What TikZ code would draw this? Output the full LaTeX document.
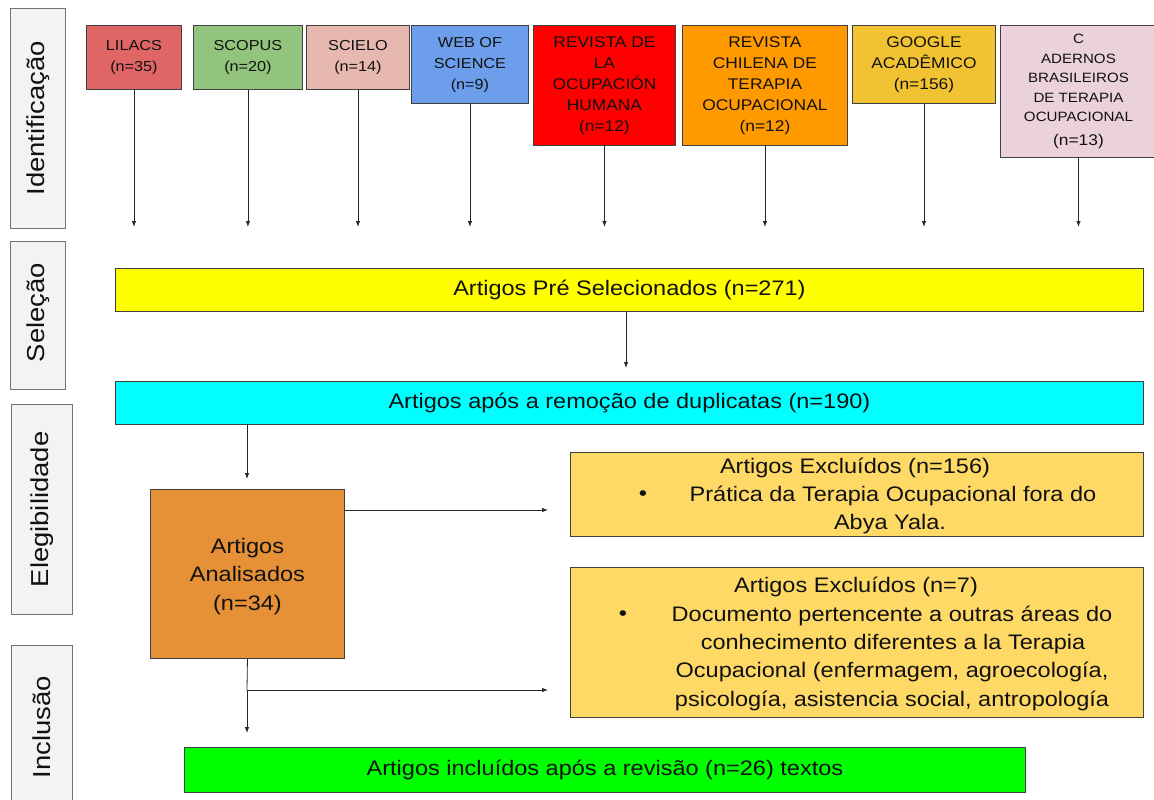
\documentclass[tikz,border=0pt]{standalone}
\usepackage{fontspec}
\setmainfont{Liberation Sans}[FakeStretch=1.12]
\usetikzlibrary{arrows.meta}
\definecolor{cLil}{HTML}{E06666}
\definecolor{cSco}{HTML}{93C47D}
\definecolor{cSci}{HTML}{E6B8AF}
\definecolor{cWeb}{HTML}{6D9EEB}
\definecolor{cRev}{HTML}{FF0000}
\definecolor{cChi}{HTML}{FF9900}
\definecolor{cGoo}{HTML}{F1C232}
\definecolor{cCad}{HTML}{EAD1DC}
\definecolor{cYel}{HTML}{FFFF00}
\definecolor{cCya}{HTML}{00FFFF}
\definecolor{cOra}{HTML}{E69138}
\definecolor{cExc}{HTML}{FFD966}
\definecolor{cGre}{HTML}{00FF00}
\definecolor{cSide}{HTML}{F3F3F3}
\definecolor{cTxt}{HTML}{111111}
\begin{document}
\begin{tikzpicture}[x=1pt,y=-1pt,
  box/.style={draw=black!75, line width=0.9pt, inner sep=0pt, align=center, text=cTxt, anchor=north west},
  src/.style={box, font=\fontsize{14.5}{21}\selectfont},
  srcb/.style={box, font=\fontsize{15.5}{21}\selectfont},
  bar/.style={box, font=\fontsize{21}{28}\selectfont},
  side/.style={draw=black!55, fill=cSide, line width=0.9pt, anchor=north west, inner sep=0pt},
  sidetext/.style={rotate=90, font=\fontsize{24.5}{28}\selectfont, text=cTxt, inner sep=0pt},
  ltxt/.style={font=\fontsize{21}{28}\selectfont, text=cTxt, inner sep=0pt, anchor=center},
  arr/.style={-{Latex[length=6pt,width=4.5pt]}, line width=0.8pt, draw=black!85},
  ln/.style={line width=0.8pt, draw=black!85}
]
\clip (0,0) rectangle (1154,800);
\fill[white] (0,0) rectangle (1154,800);

% side labels
\node[side, minimum width=55pt, minimum height=220pt] (s1) at (10,8) {};
\node[sidetext] (s1t) at (s1.center) {Identificação};
\node[side, minimum width=55pt, minimum height=148pt] (s2) at (10,241) {};
\node[sidetext] (s2t) at ([yshift=3pt]s2.center) {Seleção};
\node[side, minimum width=61pt, minimum height=210pt] (s3) at (11,404) {};
\node[sidetext] (s3t) at (s3.center) {Elegibilidade};
\node[side, minimum width=61pt, minimum height=170pt] (s4) at (11,645) {};
\node[sidetext] (s4t) at ([yshift=-82pt]s4.north) {Inclusão};

% sources
\node[src, fill=cLil, minimum width=95pt, minimum height=64pt] (lil) at (86,25) {LILACS\\(n=35)};
\node[src, fill=cSco, minimum width=109pt, minimum height=64pt] (sco) at (193,25) {SCOPUS\\(n=20)};
\node[src, fill=cSci, minimum width=103pt, minimum height=64pt] (sci) at (306,25) {SCIELO\\(n=14)};
\node[src, fill=cWeb, minimum width=117pt, minimum height=78pt] (web) at (411,25) {WEB OF\\SCIENCE\\(n=9)};
\node[srcb, fill=cRev, minimum width=142pt, minimum height=120pt] (rev) at (533,25) {REVISTA DE\\LA\\OCUPACIÓN\\HUMANA\\(n=12)};
\node[srcb, fill=cChi, minimum width=165pt, minimum height=120pt] (chi) at (682,25) {REVISTA\\CHILENA DE\\TERAPIA\\OCUPACIONAL\\(n=12)};
\node[srcb, fill=cGoo, minimum width=143pt, minimum height=78pt] (goo) at (852,25) {GOOGLE\\ACADÊMICO\\(n=156)};
\node[box, font=\fontsize{13.5}{19.5}\selectfont, fill=cCad, minimum width=156pt, minimum height=132pt] (cad) at (1000,25) {C\\ADERNOS\\BRASILEIROS\\DE TERAPIA\\OCUPACIONAL\\[4pt]{\fontsize{15.5}{19.5}\selectfont(n=13)}};

\coordinate (lvl) at (0,227);
\foreach \n in {lil,sco,sci,web,rev,chi,goo,cad}{
  \coordinate (e\n) at (\n.south |- lvl);
  \draw[arr] (\n.south) -- (e\n);
}

% bars
\node[bar, fill=cYel, minimum width=1028pt, minimum height=43pt] (yel) at (115,268) {Artigos Pré Selecionados (n=271)};
\node[bar, fill=cCya, minimum width=1028pt, minimum height=43pt] (cya) at (115,381) {Artigos após a remoção de duplicatas (n=190)};
\coordinate (eyel) at (626,368);
\draw[arr] (yel.south -| eyel) -- (eyel);

\node[bar, fill=cOra, minimum width=194pt, minimum height=169pt, text depth=0pt] (ora) at (150,489) {\rule{0pt}{6pt}Artigos\\[0.5pt]Analisados\\[0.5pt](n=34)};
\coordinate (ecya) at (247,479);
\draw[arr] (cya.south -| ecya) -- (ecya);

\node[box, fill=cExc, minimum width=573pt, minimum height=84pt] (ex1) at (570,452) {};
\node[box, fill=cExc, minimum width=573pt, minimum height=150pt] (ex2) at (570,567) {};

\node[ltxt] (x1a) at (855,468) {Artigos Excluídos (n=156)};
\node[ltxt] (x1b) at (643,496) {\textbullet};
\node[ltxt] (x1c) at (893,496) {Prática da Terapia Ocupacional fora do};
\node[ltxt] (x1d) at (890,524) {Abya Yala.};

\node[ltxt] (x2a) at (856,587) {Artigos Excluídos (n=7)};
\node[ltxt] (x2b) at (623,616) {\textbullet};
\node[ltxt] (x2c) at (892,616) {Documento pertencente a outras áreas do};
\node[ltxt] (x2d) at (893,644) {conhecimento diferentes a la Terapia};
\node[ltxt] (x2e) at (892,672) {Ocupacional (enfermagem, agroecología,};
\node[ltxt] (x2f) at (892,701) {psicología, asistencia social, antropología};

\coordinate (eex1) at (548,510);
\draw[arr] (ora.east |- eex1) -- (eex1);

\node[bar, fill=cGre, minimum width=841pt, minimum height=45pt] (gre) at (184,747) {Artigos incluídos após a revisão (n=26) textos};
\coordinate (br) at (247,690);
\coordinate (eex2) at (548,690);
\coordinate (egre) at (247,733);
\draw[ln] (ora.south) -- (br);
\draw[arr] (br) -- (eex2);
\draw[arr] (br) -- (egre);
\end{tikzpicture}
\end{document}
